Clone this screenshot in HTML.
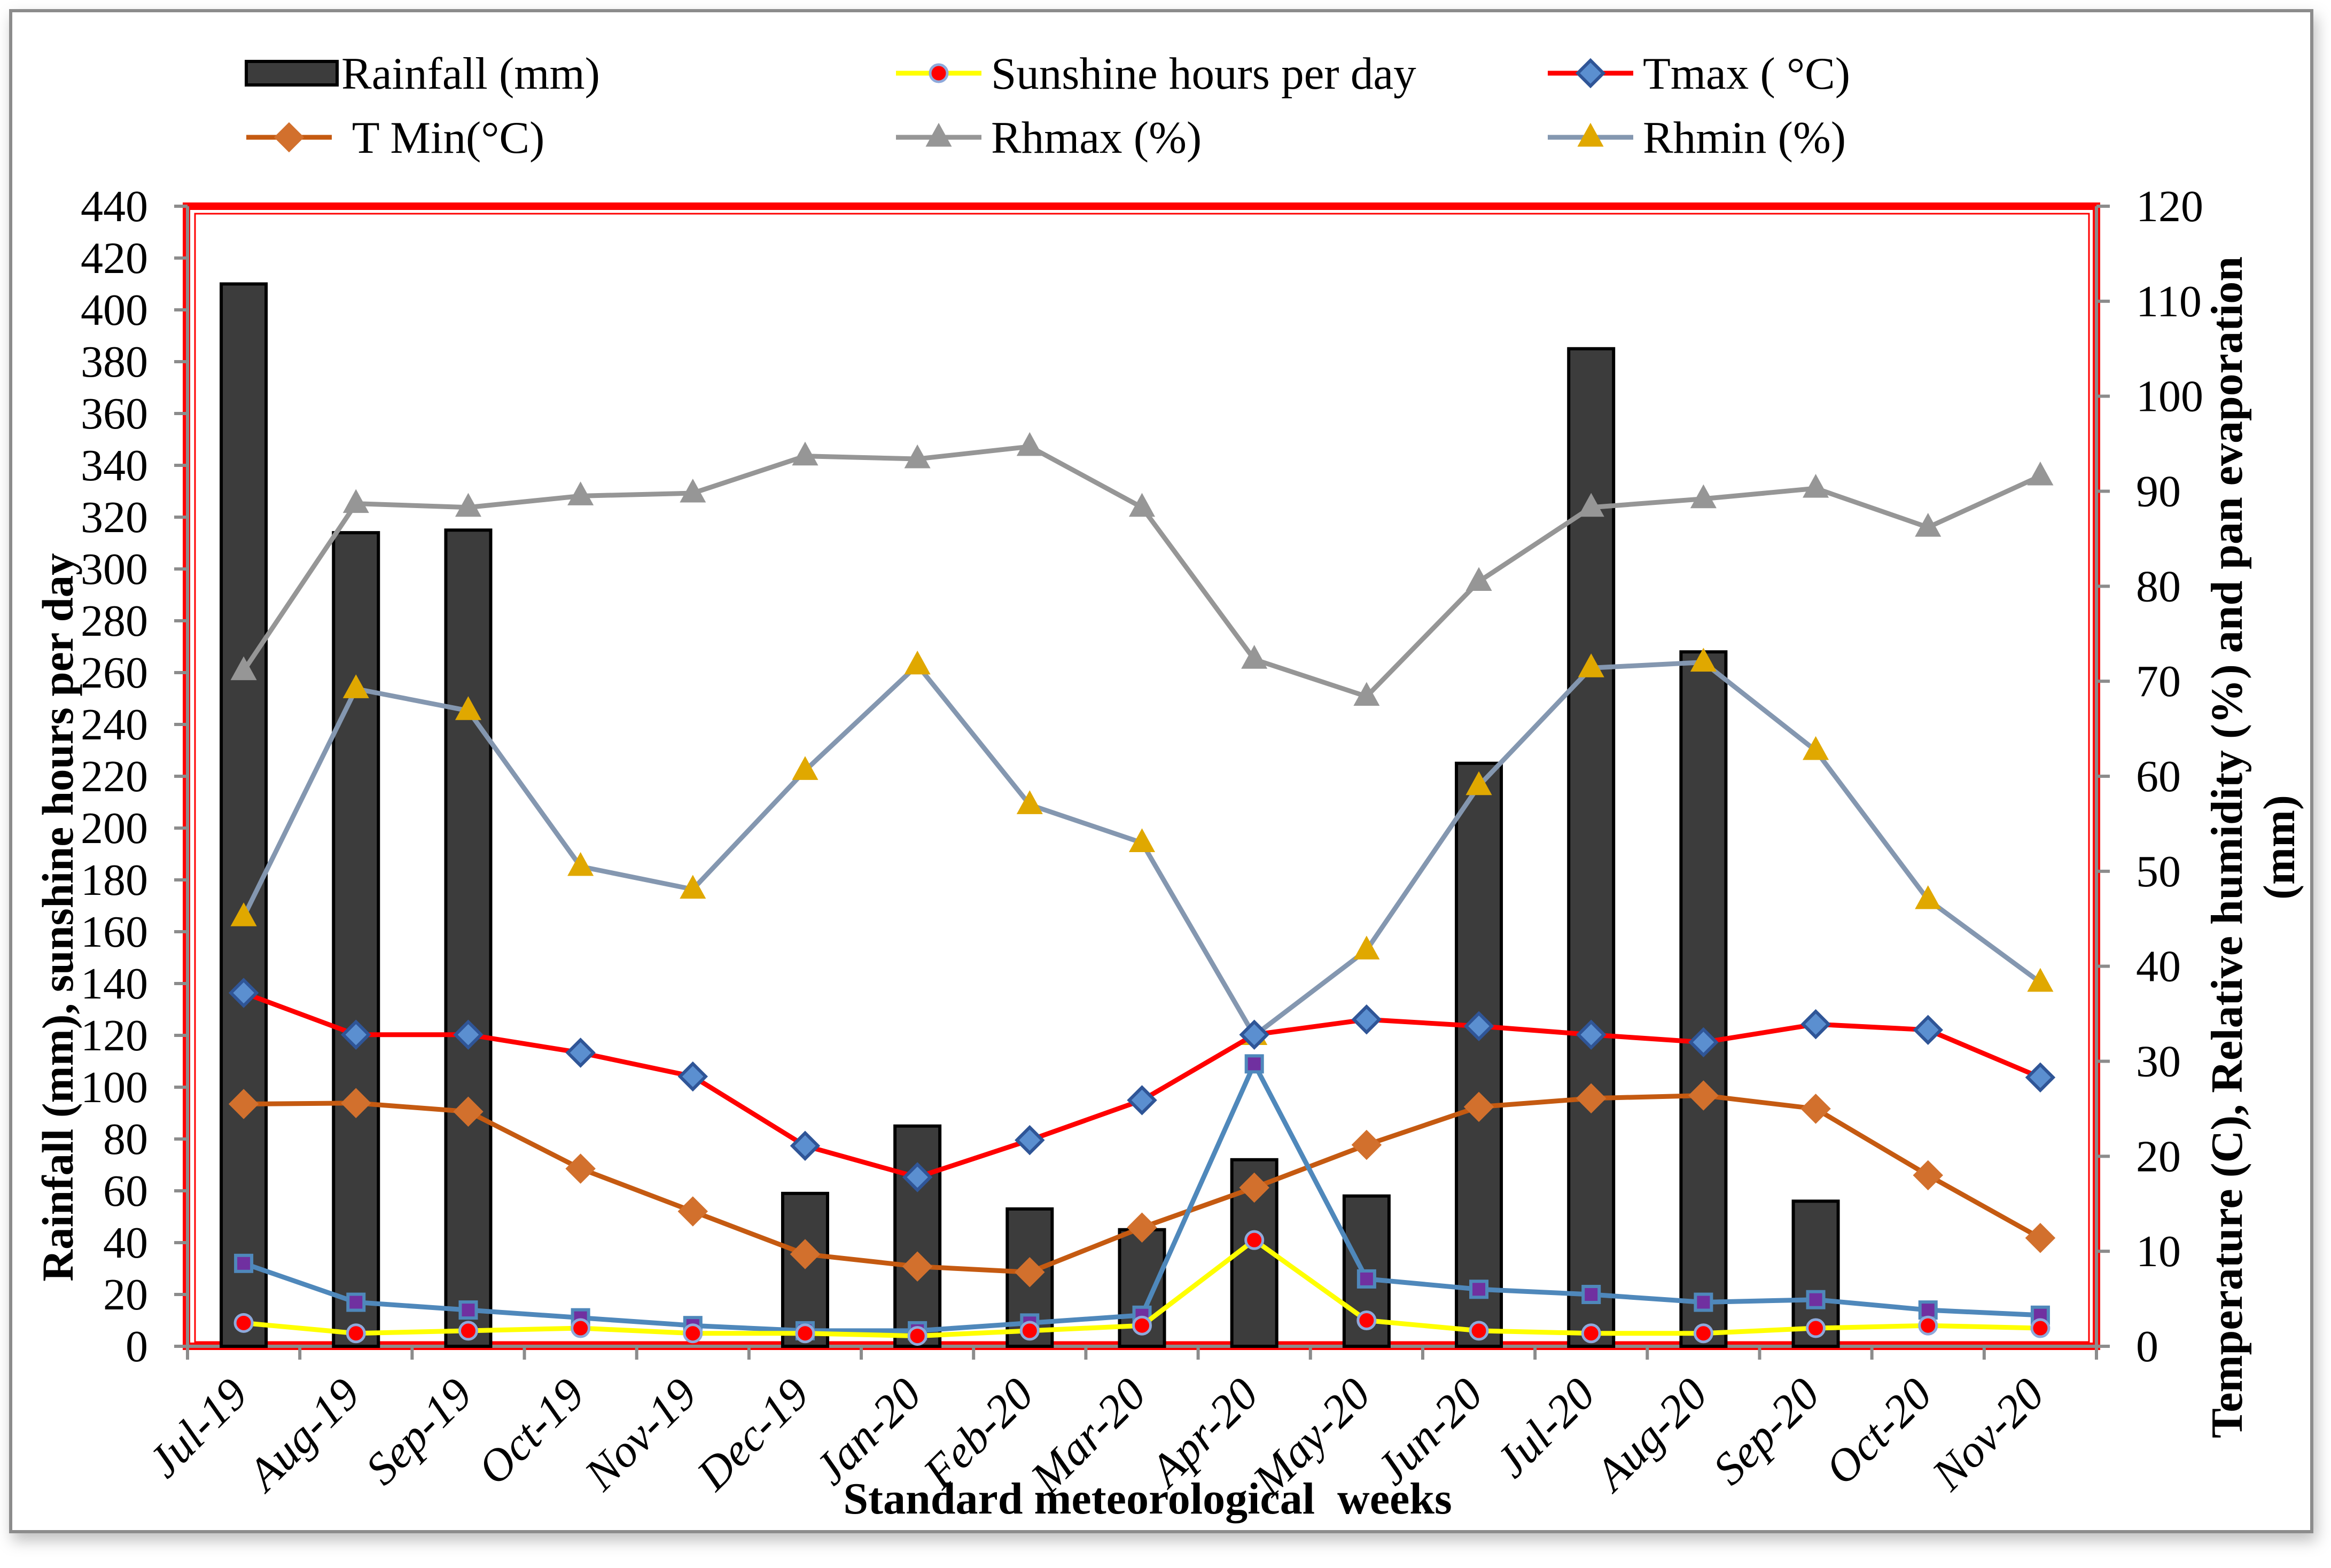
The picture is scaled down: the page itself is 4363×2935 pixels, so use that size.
<!DOCTYPE html>
<html><head><meta charset="utf-8"><style>
html,body{margin:0;padding:0;background:#fff;}
svg{display:block;font-family:"Liberation Serif",serif;}
</style></head><body>
<svg id="chart" width="4363" height="2935" viewBox="0 0 4363 2935" xmlns="http://www.w3.org/2000/svg">
<defs><filter id="sh" x="-5%" y="-5%" width="110%" height="110%"><feDropShadow dx="6" dy="14" stdDeviation="14" flood-color="#000" flood-opacity="0.25"/></filter></defs>
<rect x="20" y="20" width="4307" height="2847" fill="#fff" stroke="#8c8c8c" stroke-width="6" filter="url(#sh)"/>
<g id="plot"></g>
</svg>
<script>
const categories=["Jul-19","Aug-19","Sep-19","Oct-19","Nov-19","Dec-19","Jan-20","Feb-20","Mar-20","Apr-20","May-20","Jun-20","Jul-20","Aug-20","Sep-20","Oct-20","Nov-20"];
const rainfall=[410,314,315,0,0,59,85,53,45,72,58,225,385,268,56,0,0];
const sunshine=[9,5,6,7,5,5,4,6,8,41,10,6,5,5,7,8,7];
const panEvap=[32,17,14,11,8,6,6,9,12,109,26,22,20,17,18,14,12];
const tmax=[37.2,32.8,32.8,30.9,28.4,21.1,17.8,21.7,25.9,32.8,34.4,33.7,32.8,32.0,33.9,33.3,28.3];
const tmin=[25.5,25.6,24.7,18.7,14.2,9.7,8.4,7.8,12.5,16.7,21.2,25.2,26.1,26.4,25.0,18.0,11.4];
const rhmax=[71.1,88.7,88.3,89.5,89.8,93.7,93.4,94.7,88.3,72.3,68.4,80.5,88.3,89.2,90.3,86.2,91.6];
const rhmin=[45.2,69.2,66.9,50.5,48.1,60.6,71.7,57.0,53.0,32.7,41.7,59.0,71.4,72.0,62.7,47.0,38.3];
const leftTicks=[0,20,40,60,80,100,120,140,160,180,200,220,240,260,280,300,320,340,360,380,400,420,440];
const rightTicks=[0,10,20,30,40,50,60,70,80,90,100,110,120];

const NS="http://www.w3.org/2000/svg";
const g=document.getElementById('plot');
const X0=351,X1=3924,Y0=2520,Y1=386;
const cw=(X1-X0)/categories.length;
const xc=i=>X0+cw*(i+0.5);
const yL=v=>Y0-(v/440)*(Y0-Y1);
const yR=v=>Y0-(v/120)*(Y0-Y1);
function el(t,a,p){const e=document.createElementNS(NS,t);for(const k in a)e.setAttribute(k,a[k]);(p||g).appendChild(e);return e;}

const pb=el('rect',{x:X0-2,y:Y1,width:X1-X0+2,height:Y0-Y1,fill:'none',stroke:'#ff0000','stroke-width':14});


el('rect',{x:X0+14,y:Y1+14,width:X1-X0-28,height:Y0-Y1-22,fill:'none',stroke:'#ff0000','stroke-width':3});

const la=el('line',{x1:X0,y1:Y1,x2:X0,y2:Y0,stroke:'#8c8c8c','stroke-width':6});


const ra=el('line',{x1:X1,y1:Y1,x2:X1,y2:Y0,stroke:'#8c8c8c','stroke-width':6});


const ba=el('line',{x1:X0,y1:Y0,x2:X1,y2:Y0,stroke:'#8c8c8c','stroke-width':6});



leftTicks.forEach(v=>{
  el('line',{x1:X0-25,y1:yL(v),x2:X0,y2:yL(v),stroke:'#8c8c8c','stroke-width':6});
  const t=el('text',{x:277,y:yL(v)+28,'text-anchor':'end','font-size':84});
  t.textContent=v;
  
  
});
rightTicks.forEach(v=>{
  el('line',{x1:X1,y1:yR(v),x2:X1+25,y2:yR(v),stroke:'#8c8c8c','stroke-width':6});
  const t=el('text',{x:3998,y:yR(v)+28,'text-anchor':'start','font-size':84});
  t.textContent=v;
  
  
});
for(let i=0;i<=categories.length;i++){
  el('line',{x1:X0+cw*i,y1:Y0,x2:X0+cw*i,y2:Y0+25,stroke:'#8c8c8c','stroke-width':6});
}
categories.forEach((c,i)=>{
  const x=xc(i)+12,y=Y0+95;
  const t=el('text',{x:x,y:y,'text-anchor':'end','font-size':86,'font-style':'italic',transform:`rotate(-45 ${x} ${y})`});
  t.textContent=c;
  
  
});

rainfall.forEach((v,i)=>{
  if(v<=0)return;
  const b=el('rect',{x:xc(i)-42,y:yL(v),width:84,height:Y0-yL(v),fill:'#3c3c3c',stroke:'#000','stroke-width':6});
  
  
});

function line(vals,yf,color,w,name){
  const p=el('polyline',{points:vals.map((v,i)=>xc(i)+','+yf(v)).join(' '),fill:'none',stroke:color,'stroke-width':w,'stroke-linejoin':'round'});
  
  
}
function marker(type,x,y,fill,stroke,name){
  let m;
  if(type==='diamond')m=el('polygon',{points:`${x},${y-24} ${x+24},${y} ${x},${y+24} ${x-24},${y}`,fill:fill,stroke:stroke,'stroke-width':6});
  else if(type==='tri')m=el('polygon',{points:`${x},${y-24} ${x+22},${y+16} ${x-22},${y+16}`,fill:fill,stroke:stroke,'stroke-width':3});
  else if(type==='sq')m=el('rect',{x:x-15,y:y-15,width:30,height:30,fill:fill,stroke:stroke,'stroke-width':6});
  else m=el('circle',{cx:x,cy:y,r:16,fill:fill,stroke:stroke,'stroke-width':5});
  
  
}
line(rhmax,yR,'#969696',9,'rhmax-line');
rhmax.forEach((v,i)=>marker('tri',xc(i),yR(v),'#969696','#969696','rhmax-point'));
line(rhmin,yR,'#8497b0',9,'rhmin-line');
rhmin.forEach((v,i)=>marker('tri',xc(i),yR(v),'#e0a800','#e0a800','rhmin-point'));
line(tmin,yR,'#c55a11',9,'tmin-line');
tmin.forEach((v,i)=>marker('diamond',xc(i),yR(v),'#d2702d','#d2702d','tmin-point'));
line(tmax,yR,'#ff0000',9,'tmax-line');
tmax.forEach((v,i)=>marker('diamond',xc(i),yR(v),'#5b8fd0','#2f5597','tmax-point'));
line(panEvap,yL,'#4f88bb',9,'pan-evaporation-line');
panEvap.forEach((v,i)=>marker('sq',xc(i),yL(v),'#7030a0','#4f88bb','pan-evaporation-point'));
line(sunshine,yL,'#ffff00',9,'sunshine-line');
sunshine.forEach((v,i)=>marker('circ',xc(i),yL(v),'#ff0000','#8ea9db','sunshine-point'));

const lt=el('text',{x:0,y:0,'text-anchor':'middle','font-size':83,'font-weight':'bold',transform:'translate(136 1717) rotate(-90)'});
lt.textContent='Rainfall (mm), sunshine hours per day';


const rt1=el('text',{x:0,y:0,'text-anchor':'middle','font-size':84,'font-weight':'bold',transform:'translate(4196 1586) rotate(-90)'});
rt1.textContent='Temperature (C), Relative humidity (%) and pan evaporation';


const rt2=el('text',{x:0,y:0,'text-anchor':'middle','font-size':84,'font-weight':'bold',transform:'translate(4294 1586) rotate(-90)'});
rt2.textContent='(mm)';


const xt=el('text',{x:2148,y:2833,'text-anchor':'middle','font-size':84,'font-weight':'bold'});
xt.textContent='Standard meteorological  weeks';
xt.style.whiteSpace='pre';



const legend=[
 {label:'Rainfall (mm)',x:461,y:137,kind:'bar'},
 {label:'Sunshine hours per day',x:1677,y:137,kind:'line',c:'#ffff00',m:'circ',mf:'#ff0000',ms:'#8ea9db'},
 {label:'Tmax ( °C)',x:2897,y:137,kind:'line',c:'#ff0000',m:'diamond',mf:'#5b8fd0',ms:'#2f5597'},
 {label:' T Min(°C)',x:461,y:257,kind:'line',c:'#c55a11',m:'diamond',mf:'#d2702d',ms:'#d2702d'},
 {label:'Rhmax (%)',x:1677,y:257,kind:'line',c:'#969696',m:'tri',mf:'#969696',ms:'#969696'},
 {label:'Rhmin (%)',x:2897,y:257,kind:'line',c:'#8497b0',m:'tri',mf:'#e0a800',ms:'#e0a800'}
];
legend.forEach(L=>{
  if(L.kind==='bar'){
    const r=el('rect',{x:L.x,y:L.y-22,width:170,height:44,fill:'#3c3c3c',stroke:'#000','stroke-width':6});
    
    
  }else{
    const l=el('line',{x1:L.x,y1:L.y,x2:L.x+160,y2:L.y,stroke:L.c,'stroke-width':9});
    
    
    marker(L.m,L.x+80,L.y,L.mf,L.ms,'legend-marker');
  }
  const t=el('text',{x:L.x+178,y:L.y+29,'font-size':85});
  t.textContent=L.label;
  t.style.whiteSpace='pre';
  
  
});
</script>
</body></html>
